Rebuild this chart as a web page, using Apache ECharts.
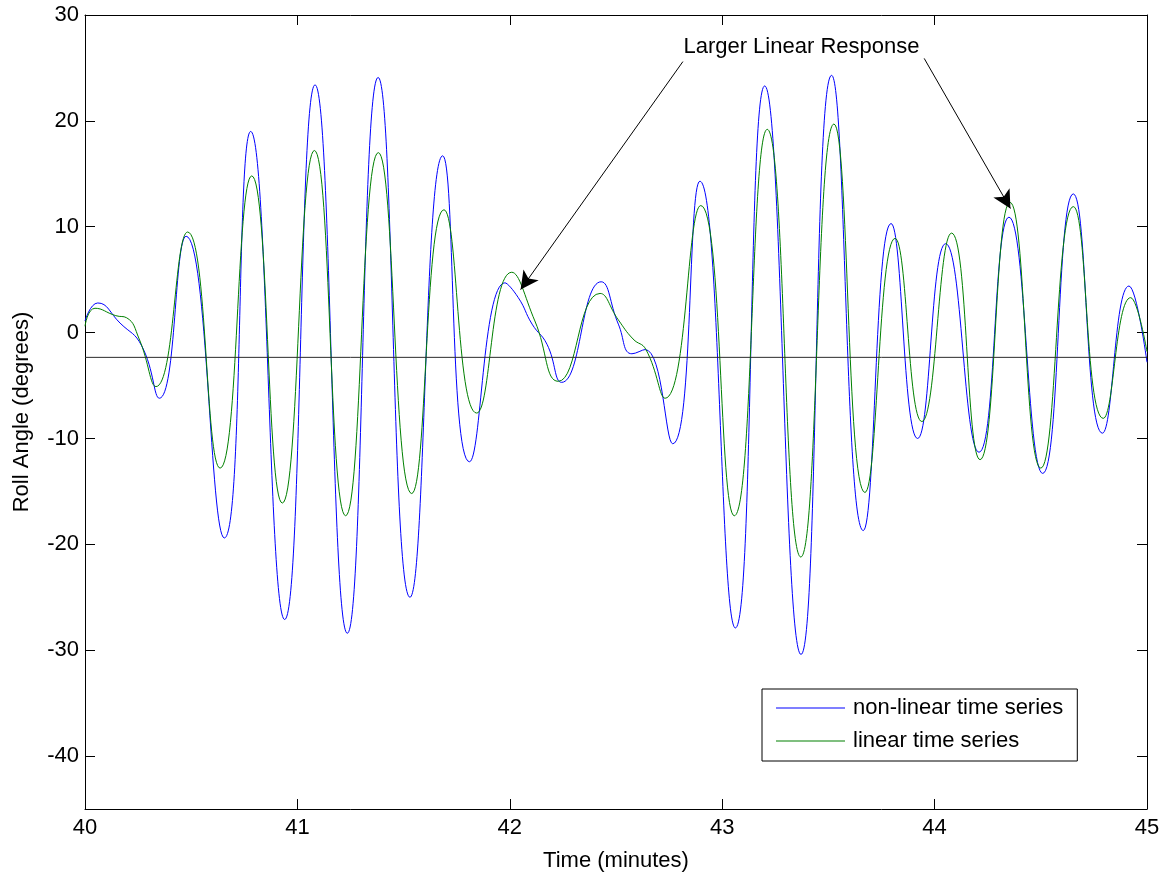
<!DOCTYPE html>
<html>
<head>
<meta charset="utf-8">
<script src="https://cdn.jsdelivr.net/npm/echarts@6/dist/echarts.min.js"></script>
<style>
html,body{margin:0;padding:0;background:#fff;}
#chart{width:1172px;height:877px;}
</style>
</head>
<body>
<div id="chart"></div>
<script>
// ---- data ----
const nonLinearTime = [40.00, 40.06, 40.165, 40.267, 40.35, 40.476, 40.656, 40.78, 40.94, 41.083, 41.235, 41.38, 41.53, 41.684, 41.81, 41.977, 42.04, 42.105, 42.175, 42.244, 42.43, 42.511, 42.575, 42.637, 42.767, 42.895, 43.062, 43.20, 43.371, 43.515, 43.664, 43.795, 43.92, 44.052, 44.209, 44.35, 44.509, 44.653, 44.79, 44.915, 45.0];
const nonLinearRoll = [1.1, 2.8, 0.9, -1.25, -6.2, 9.1, -19.4, 19.0, -27.1, 23.4, -28.4, 24.1, -25.0, 16.7, -12.2, 4.7, 3.3, 0.8, -1.1, -4.7, 4.8, 0.8, -2.0, -1.6, -10.5, 14.3, -27.9, 23.3, -30.4, 24.3, -18.7, 10.3, -10.0, 8.4, -11.3, 10.9, -13.3, 13.1, -9.5, 4.4, -2.8];

const linearTime = [40.00, 40.047, 40.145, 40.196, 40.255, 40.334, 40.483, 40.636, 40.785, 40.929, 41.08, 41.227, 41.381, 41.538, 41.69, 41.844, 42.009, 42.118, 42.228, 42.425, 42.511, 42.58, 42.641, 42.731, 42.899, 43.057, 43.212, 43.37, 43.526, 43.672, 43.814, 43.94, 44.08, 44.214, 44.355, 44.50, 44.653, 44.794, 44.923, 45.0];
const linearRoll = [0.6, 2.3, 1.6, 1.4, -0.6, -5.1, 9.5, -12.8, 14.8, -16.1, 17.2, -17.3, 17.0, -15.2, 11.6, -7.6, 5.7, 1.1, -4.6, 3.7, 1.2, -0.6, -1.6, -6.2, 12.0, -17.3, 19.2, -21.2, 19.7, -15.1, 8.9, -8.4, 9.4, -12.0, 12.3, -12.8, 11.9, -8.1, 3.3, -1.8];

const refLineTime = [40, 45];
const refLineRoll = [-2.34, -2.34];

const xTicks = [40, 41, 42, 43, 44, 45];
const yTicks = [-40, -30, -20, -10, 0, 10, 20, 30];

const annotationText = 'Larger Linear Response';
const annotationAnchor = [42.815, 27.0];
const arrowStarts = [[42.815, 25.6], [43.951, 25.9]];
const arrowTips = [[42.051, 4.06], [44.357, 11.72]];

// ---- chart ----
const FONT = '"Liberation Sans", Arial, Helvetica, sans-serif';
const zip = (a, b) => a.map((v, i) => [v, b[i]]);

const baseX = {
  type: 'value', min: xTicks[0], max: xTicks[xTicks.length - 1], interval: 1,
  axisLine: { show: true, onZero: false, lineStyle: { color: '#000', width: 1 } },
  axisTick: { show: true, inside: true, length: 10, lineStyle: { color: '#000' } },
  splitLine: { show: false }
};
const baseY = {
  type: 'value', min: -45, max: 30,
  axisLine: { show: true, onZero: false, lineStyle: { color: '#000', width: 1 } },
  axisTick: { show: true, inside: true, length: 10, customValues: yTicks, lineStyle: { color: '#000' } },
  splitLine: { show: false }
};

const option = {
  animation: false,
  backgroundColor: '#fff',
  textStyle: { fontFamily: FONT },
  grid: { left: 85, right: 25, top: 15, bottom: 62, containLabel: false },
  xAxis: [
    Object.assign({}, baseX, {
      position: 'bottom',
      name: 'Time (minutes)', nameLocation: 'middle', nameGap: 41,
      nameTextStyle: { fontSize: 22, color: '#000', fontFamily: FONT },
      axisLabel: { show: true, fontSize: 22, color: '#000', margin: 8, fontFamily: FONT, customValues: xTicks }
    }),
    Object.assign({}, baseX, { position: 'top', axisLabel: { show: false } })
  ],
  yAxis: [
    Object.assign({}, baseY, {
      position: 'left',
      name: 'Roll Angle (degrees)', nameLocation: 'middle', nameGap: 52,
      nameTextStyle: { fontSize: 22, color: '#000', fontFamily: FONT },
      axisLabel: { show: true, fontSize: 22, color: '#000', margin: 6, fontFamily: FONT, customValues: yTicks }
    }),
    Object.assign({}, baseY, { position: 'right', axisLabel: { show: false } })
  ],
  legend: {
    orient: 'vertical', left: 762, top: 689,
    icon: 'rect',
    itemWidth: 69, itemHeight: 1, itemGap: 11,
    padding: [8, 14, 9, 14],
    borderColor: '#000', borderWidth: 1, backgroundColor: '#fff',
    selectedMode: false,
    textStyle: { fontSize: 22, color: '#000', fontFamily: FONT, lineHeight: 22, padding: [0, 0, 0, 3] },
    data: ['non-linear time series', 'linear time series']
  },
  series: [
    {
      name: 'non-linear time series', type: 'line', xAxisIndex: 0, yAxisIndex: 0,
      data: zip(nonLinearTime, nonLinearRoll), smooth: 0.5, symbol: 'none',
      lineStyle: { color: '#0000ff', width: 1 }, itemStyle: { color: '#0000ff' }
    },
    {
      name: 'linear time series', type: 'line', xAxisIndex: 0, yAxisIndex: 0,
      data: zip(linearTime, linearRoll), smooth: 0.5, symbol: 'none',
      lineStyle: { color: '#008000', width: 1 }, itemStyle: { color: '#008000' }
    },
    {
      name: 'reference', type: 'line', xAxisIndex: 0, yAxisIndex: 0,
      data: zip(refLineTime, refLineRoll), symbol: 'none', silent: true,
      lineStyle: { color: '#2b2b2b', width: 1 },
      markLine: {
        silent: true, animation: false,
        symbol: ['none', 'arrow'], symbolSize: [14, 18],
        lineStyle: { color: '#000', width: 1, type: 'solid' },
        itemStyle: { color: '#000' },
        label: { show: false },
        emphasis: { disabled: true },
        data: arrowStarts.map((s, i) => [{ coord: s }, { coord: arrowTips[i] }])
      }
    },
    {
      name: 'annotation', type: 'scatter', xAxisIndex: 0, yAxisIndex: 0,
      data: [annotationAnchor], symbolSize: 1,
      itemStyle: { color: 'rgba(0,0,0,0)', opacity: 1 }, silent: true,
      label: {
        show: true, position: 'right', distance: 0, formatter: annotationText,
        fontSize: 22, color: '#000', opacity: 1, fontFamily: FONT
      }
    }
  ]
};

const chart = echarts.init(document.getElementById('chart'), null, { renderer: 'canvas' });
chart.setOption(option);
</script>
</body>
</html>
